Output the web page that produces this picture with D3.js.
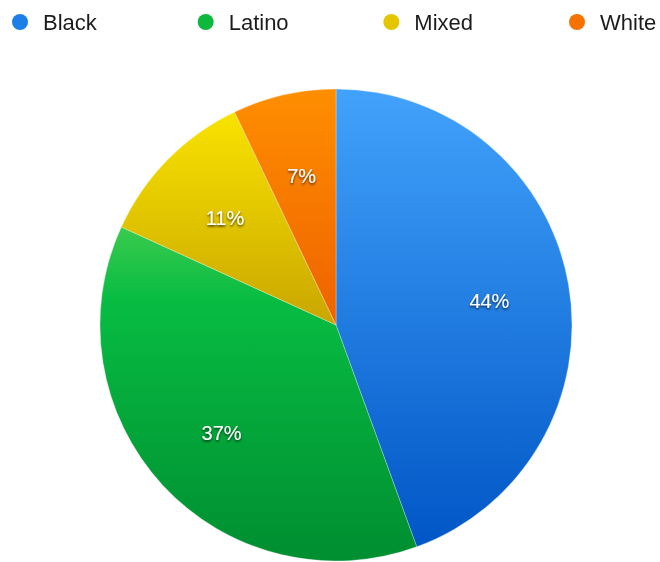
<!DOCTYPE html>
<html>
<head>
<meta charset="utf-8">
<script src="https://cdn.jsdelivr.net/npm/d3@7"></script>
<style>
  html, body { margin: 0; padding: 0; background: #ffffff; }
  svg { display: block; }
</style>
</head>
<body>
<svg id="chart" width="660" height="562"></svg>
<script>
// Share of each group
const categories = ["Black", "Latino", "Mixed", "White"];
const values = [44, 37, 11, 7];
const valueLabels = ["44%", "37%", "11%", "7%"];

// Gradient stops for each slice: [offset, colour]
const sliceStops = [
  [[0, "#42a2fb"], [1, "#0056c6"]],
  [[0, "#3acb4e"], [0.22, "#07bc42"], [1, "#008e31"]],
  [[0, "#f9e300"], [1, "#c9a600"]],
  [[0, "#ff8e00"], [1, "#ee6200"]]
];
const legendColors = ["#1a7fe8", "#0cb83c", "#e3c600", "#f67200"];

const width = 660, height = 562;
const cx = 336, cy = 325, radius = 236;

const svg = d3.select("#chart");
const defs = svg.append("defs");

categories.forEach((c, i) => {
  const g = defs.append("linearGradient")
    .attr("id", "grad" + i)
    .attr("x1", 0).attr("y1", 0).attr("x2", 0).attr("y2", 1);
  sliceStops[i].forEach(([o, col]) => {
    g.append("stop").attr("offset", o).attr("stop-color", col);
  });
});

const shadow = defs.append("filter").attr("id", "labelShadow")
  .attr("x", "-20%").attr("y", "-30%").attr("width", "140%").attr("height", "160%");
shadow.append("feDropShadow")
  .attr("dx", 0).attr("dy", 1.5).attr("stdDeviation", 1.2)
  .attr("flood-color", "#000").attr("flood-opacity", 0.75);

const soft = defs.append("filter").attr("id", "soft");
soft.append("feGaussianBlur").attr("stdDeviation", 0.4);

const pie = d3.pie().sort(null).value(d => d);
const arcs = pie(values);
const arc = d3.arc().innerRadius(0).outerRadius(radius);
const labelArc = d3.arc().innerRadius(radius * 0.66).outerRadius(radius * 0.66);

const g = svg.append("g").attr("transform", `translate(${cx},${cy})`);

g.selectAll("path.slice")
  .data(arcs)
  .join("path")
  .attr("class", "slice")
  .attr("d", arc)
  .attr("fill", (d, i) => `url(#grad${i})`)
  .attr("stroke", "rgba(255,255,255,0.35)")
  .attr("stroke-width", 0.8);

g.selectAll("text.value")
  .data(arcs)
  .join("text")
  .attr("class", "value")
  .attr("transform", d => `translate(${labelArc.centroid(d)})`)
  .attr("text-anchor", "middle")
  .attr("dy", "0.48em")
  .attr("font-family", "Liberation Sans, Arial, Helvetica, sans-serif")
  .attr("font-size", 20)
  .attr("fill", "#ffffff")
  .attr("filter", "url(#labelShadow)")
  .text((d, i) => valueLabels[i]);

// Legend across the top
const legendX = d3.scalePoint().domain(categories).range([20, 577]);
const legend = svg.append("g").attr("filter", "url(#soft)");
const items = legend.selectAll("g.item")
  .data(categories)
  .join("g")
  .attr("class", "item")
  .attr("transform", d => `translate(${legendX(d)},22)`);

items.append("circle")
  .attr("r", 8)
  .attr("fill", (d, i) => legendColors[i]);

items.append("text")
  .attr("x", 23)
  .attr("dy", "0.36em")
  .attr("font-family", "Liberation Sans, Arial, Helvetica, sans-serif")
  .attr("font-size", 22)
  .attr("fill", "#1c1c1c")
  .text(d => d);
</script>
</body>
</html>
